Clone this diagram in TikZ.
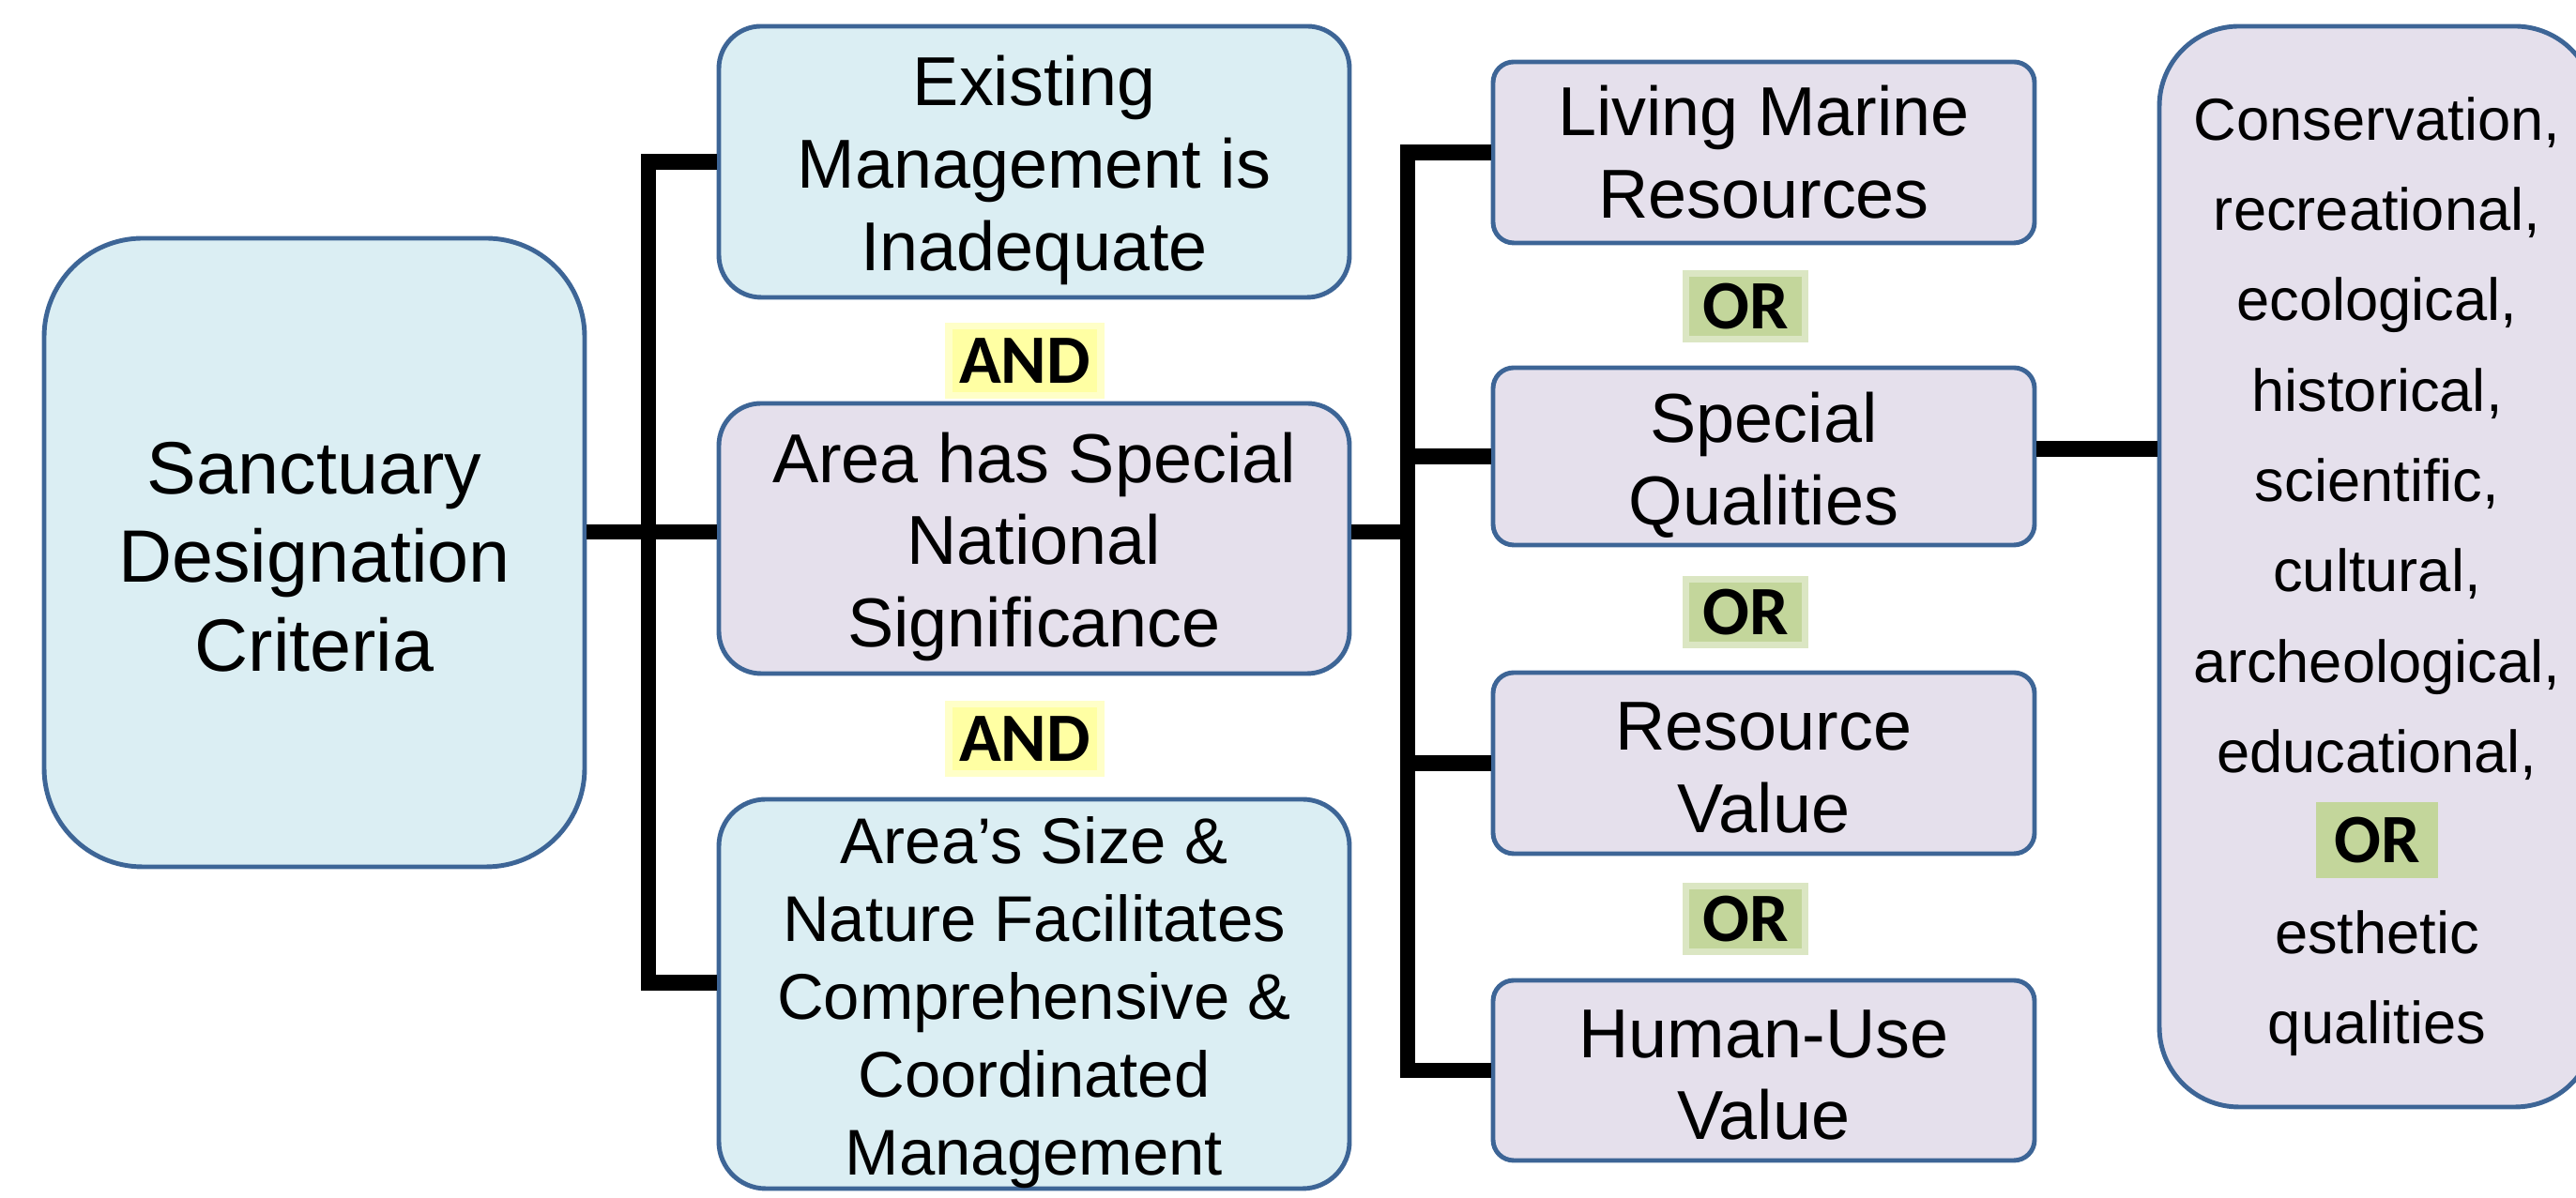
\documentclass[tikz,border=0pt]{standalone}
\usepackage{fontspec}
\setmainfont{Liberation Sans}
\newfontfamily\tagfont{Carlito}
\definecolor{critblue}{HTML}{DBEEF3}
\definecolor{critlilac}{HTML}{E5E0EC}
\definecolor{critedge}{HTML}{3D6596}
\definecolor{andyellow}{HTML}{FFFFA3}
\definecolor{orgreen}{HTML}{C3D69B}
\newcommand{\orword}{{\setlength{\fboxsep}{4.5pt}\smash{\colorbox{orgreen}{\fontsize{21}{25}\tagfont\bfseries\hspace{1pt}OR\hspace{1pt}}}}}
\newcommand{\lift}[1]{\rule{0pt}{#1}}

\begin{document}
\begin{tikzpicture}[
    crit/.style ={rectangle, draw=critedge, line width=1.4pt, align=center, inner sep=0pt,
                  font=\fontsize{21}{25}\selectfont},
    bluecrit/.style ={crit, fill=critblue},
    lilaccrit/.style ={crit, fill=critlilac},
    quality/.style ={lilaccrit, rounded corners=0.22cm, minimum width=5.77cm},
    andtag/.style ={fill=andyellow, draw=andyellow!60, line width=2pt, inner sep=0pt,
                    minimum width=1.62cm, minimum height=0.74cm, font=\fontsize{21}{25}\tagfont\bfseries},
    ortag/.style ={andtag, fill=orgreen, draw=orgreen!60, minimum width=1.27cm, minimum height=0.70cm},
    link/.style ={line width=4.8pt}]
   \useasboundingbox (0,0) rectangle (27.45,12.77);

   \node[bluecrit] (L) [rounded corners=1.05cm, minimum width=5.76cm, minimum height=6.7cm,
         font=\fontsize{22.5}{27}\selectfont] at (3.35,6.88) {\lift{18.4pt}Sanctuary\\Designation\\Criteria};

   \node[bluecrit] (B1) [rounded corners=0.45cm, minimum width=6.72cm, minimum height=2.89cm]
         at (11.02,11.045) {\lift{20.3pt}Existing\\Management is\\Inadequate};
   \node[lilaccrit] (B2) [rounded corners=0.45cm, minimum width=6.72cm, minimum height=2.88cm]
         at (11.02,7.03) {\lift{20.3pt}Area has Special\\National\\Significance};
   \node[bluecrit] (B3) [rounded corners=0.5cm, minimum width=6.72cm, minimum height=4.15cm,
         font=\fontsize{19.6}{23.6}\selectfont]
         at (11.02,2.175) {\lift{19.3pt}Area’s Size \&\\Nature Facilitates\\Comprehensive \&\\Coordinated\\Management};
   \node[andtag] (and1) at (10.92,8.92) {AND};
   \node[andtag] (and2) at (10.92,4.89) {AND};

   \node[quality] (C1) [minimum height=1.93cm] at (18.795,11.145) {Living Marine\\Resources};
   \node[quality] (C2) [minimum height=1.89cm] at (18.795,7.905) {\lift{20.3pt}Special\\Qualities};
   \node[quality] (C3) [minimum height=1.93cm] at (18.795,4.635) {\lift{17.3pt}Resource\\Value};
   \node[quality] (C4) [minimum height=1.92cm] at (18.795,1.36) {\lift{17.3pt}Human-Use\\Value};
   \node[ortag] (or1) at (18.60,9.50) {OR};
   \node[ortag] (or2) at (18.60,6.24) {OR};
   \node[ortag] (or3) at (18.60,2.97) {OR};

   \node[lilaccrit] (D) [rounded corners=0.85cm, minimum width=4.64cm, minimum height=11.52cm,
         font=\fontsize{18}{27.4}\selectfont] at (25.33,6.73)
         {\lift{19pt}Conservation,\\recreational,\\ecological,\\historical,\\scientific,\\cultural,\\archeological,\\educational,\\\orword\\esthetic\\qualities};

   \coordinate (bar1) at (6.91,7.0);
   \coordinate (bar2) at (15.0,7.0);

   \draw[link] (B1.west) to (B1.west -| bar1) |- ([yshift=0.12cm]B3.west);
   \draw[link] ([yshift=0.07cm]B2.west -| L.east) to ([yshift=0.07cm]B2.west);
   \draw[link] ([yshift=0.07cm]B2.east) to ([yshift=0.07cm]B2.east -| bar2);
   \draw[link] (C1.west) to (C1.west -| bar2) |- (C4.west);
   \draw[link] (C2.west -| bar2) to (C2.west);
   \draw[link] (C3.west -| bar2) to (C3.west);
   \draw[link] ([yshift=0.08cm]C2.east) to ([yshift=0.08cm]C2.east -| D.west);
 \end{tikzpicture}
\end{document}
